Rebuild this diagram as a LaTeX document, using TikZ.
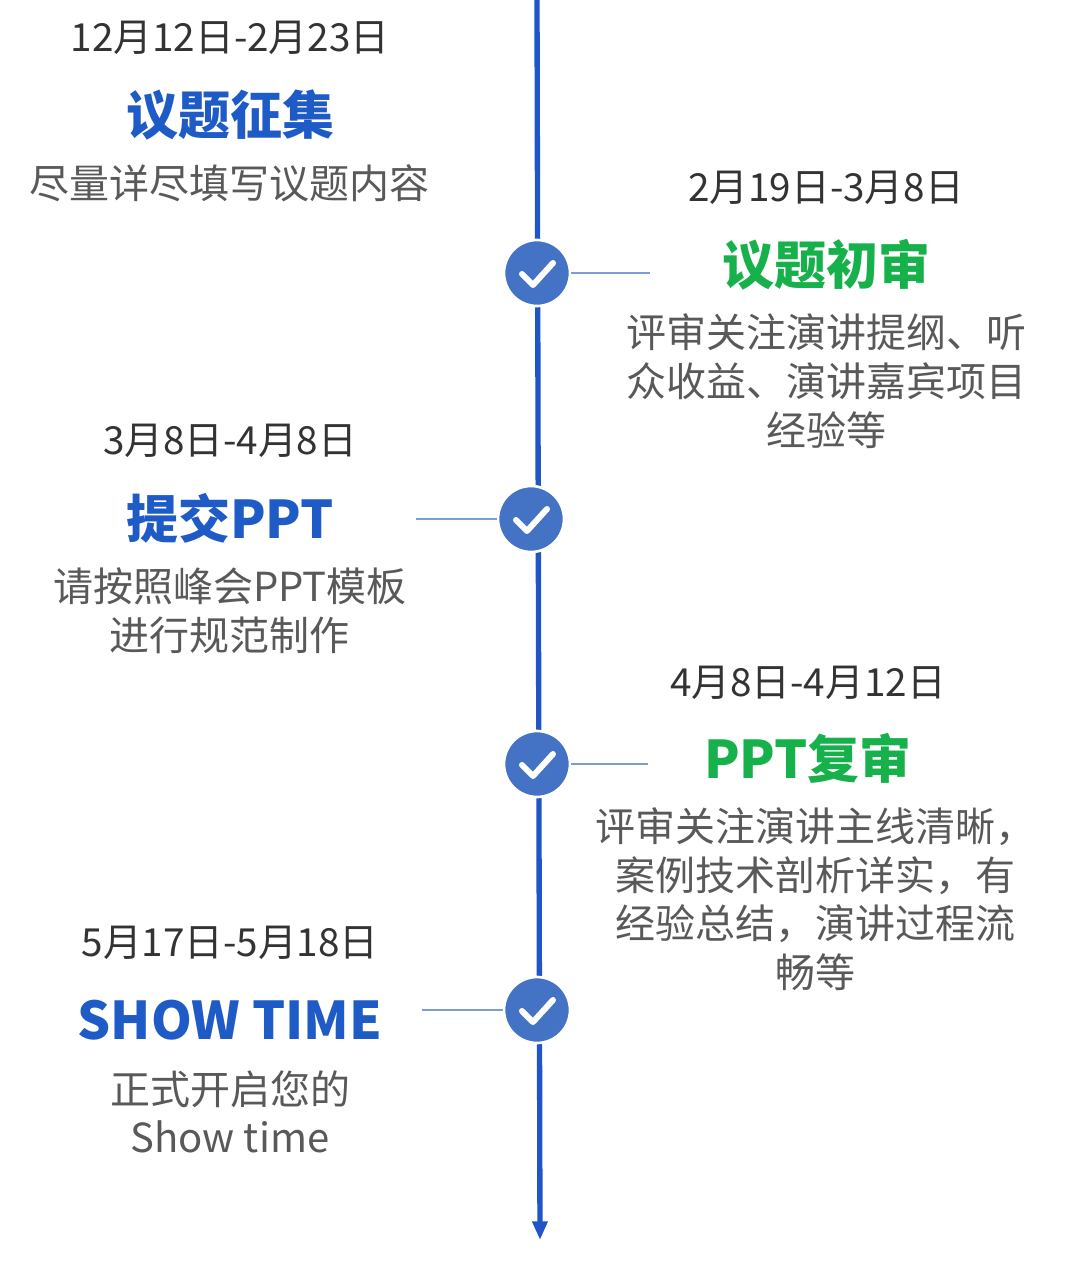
\documentclass[tikz,border=0pt]{standalone}
\usepackage{fontspec}
\setmainfont{Noto Sans CJK SC}
\newfontfamily\cjkb{Noto Sans CJK SC Bold}
\usetikzlibrary{arrows.meta}
\definecolor{lineblue}{HTML}{1F55C6}
\definecolor{circblue}{HTML}{4472C4}
\definecolor{tblue}{HTML}{1F5BC6}
\definecolor{tgreen}{HTML}{17B14B}
\definecolor{dgray}{HTML}{333333}
\definecolor{mgray}{HTML}{595959}
\tikzset{
 datet/.style={text=dgray,font=\fontsize{29}{34}\selectfont,inner sep=0},
 titleb/.style={text=tblue,font=\bfseries\fontsize{39}{44}\selectfont,inner sep=0},
 titleg/.style={text=tgreen,font=\bfseries\fontsize{39}{44}\selectfont,inner sep=0},
 desct/.style={text=mgray,font=\fontsize{30}{36.5}\selectfont,inner sep=0,align=center},
 chk/.style={circle,fill=circblue,draw=white,line width=2pt,minimum size=66pt*0.75,inner sep=0},
 conn/.style={draw=circblue!70,line width=0.8pt}
}
\begin{document}
\begin{tikzpicture}[x=0.75pt,y=-0.75pt]
\useasboundingbox (0,0) rectangle (1080,1261);
\coordinate (top) at (537,0);
\coordinate (bot) at (540,1240);
\draw[lineblue,line width=4pt,-{Triangle[length=14pt,width=11pt]}] (top) -- (bot);
\foreach \n/\x/\y in {c1/537/273,c2/531/519,c3/537/764,c4/537/1010}{
 \node[chk] (\n) at (\x,\y) {};
 \draw[white,line width=4.5pt,line cap=round,line join=round] (\x-15,\y+1) -- (\x-4,\y+12) -- (\x+16,\y-10);
}
\coordinate (e1) at (650,273); \draw[conn] (c1) -- (e1);
\coordinate (e2) at (416,519); \draw[conn] (c2) -- (e2);
\coordinate (e3) at (648,764); \draw[conn] (c3) -- (e3);
\coordinate (e4) at (422,1010); \draw[conn] (c4) -- (e4);

\node[datet] (d1) at (230,38) {12月12日-2月23日};
\node[titleb] (t1) at (230,115) {议题征集};
\node[desct] (s1) at (230,183) {尽量详尽填写议题内容};

\node[datet] (d2) at (826,188) {2月19日-3月8日};
\node[titleg] (t2) at (826,265) {议题初审};
\node[desct] (s2) at (826,381) {评审关注演讲提纲、听\\众收益、演讲嘉宾项目\\经验等};

\node[datet] (d3) at (230,441) {3月8日-4月8日};
\node[titleb] (t3) at (230,518) {提交PPT};
\node[desct] (s3) at (230,611) {请按照峰会PPT模板\\进行规范制作};

\node[datet] (d4) at (808,683) {4月8日-4月12日};
\node[titleg] (t4) at (808,758) {PPT复审};
\node[desct] (s4) at (815,899) {评审关注演讲主线清晰，\\案例技术剖析详实，有\\经验总结，演讲过程流\\畅等};

\node[datet] (d5) at (230,943) {5月17日-5月18日};
\node[titleb] (t5) at (230,1020) {SHOW TIME};
\node[desct] (s5) at (230,1112) {正式开启您的\\Show time};
\end{tikzpicture}
\end{document}
